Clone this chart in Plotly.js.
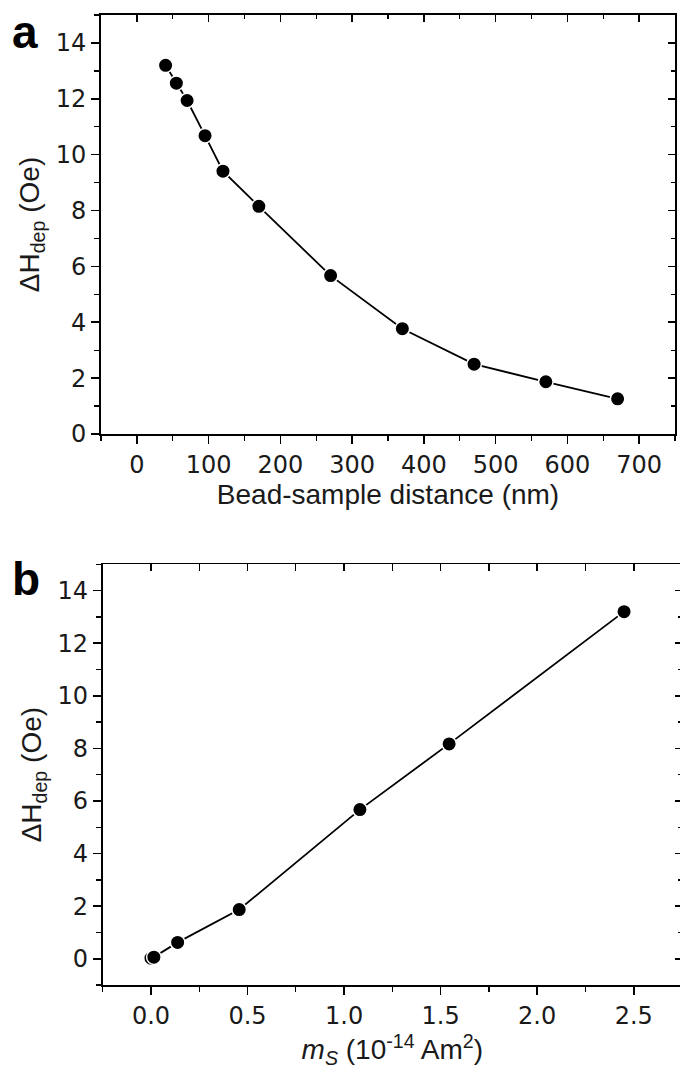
<!DOCTYPE html>
<html>
<head>
<meta charset="utf-8">
<script src="https://cdn.plot.ly/plotly-3.0.1.min.js"></script>
<style>
html,body{margin:0;padding:0;overflow:hidden;background:#fff;}
#chart{width:684px;height:1071px;}
</style>
</head>
<body>
<div id="chart"></div>
<script>
// Panel a: bead-sample distance (nm) vs ΔH_dep (Oe)
var distanceNm = [40, 55, 70, 95, 120, 170, 270, 370, 470, 570, 670];
var dHdepA = [13.2, 12.56, 11.94, 10.68, 9.41, 8.15, 5.67, 3.77, 2.50, 1.87, 1.26];
// Panel b: m_S (1e-14 Am^2) vs ΔH_dep (Oe)
var mS = [0.0, 0.015, 0.138, 0.457, 1.082, 1.544, 2.45];
var dHdepB = [0.02, 0.06, 0.62, 1.87, 5.67, 8.17, 13.2];

var xTicksA = [0, 100, 200, 300, 400, 500, 600, 700];
var yTicks = [0, 2, 4, 6, 8, 10, 12, 14];
var xTicksB = [0.0, 0.5, 1.0, 1.5, 2.0, 2.5];
var xTickTextB = ['0.0', '0.5', '1.0', '1.5', '2.0', '2.5'];

var W = 684, H = 1071;
var FONT = 'Liberation Sans, Arial, sans-serif';
var TF = {family: 'DejaVu Sans, Liberation Sans, sans-serif', size: 24, color: '#1a1a1a'};
var TTF = {family: FONT, size: 28, color: '#1a1a1a'};

function px2fx(p){ return p / W; }
function py2fy(p){ return (H - p) / H; }

var domXA = [px2fx(101), px2fx(675)];
var domYA = [py2fy(434), py2fy(15)];
var domXB = [px2fx(102.7), px2fx(682)];
var domYB = [py2fy(985), py2fy(564.3)];

var markerStyle = {size: 14.5, color: '#000', line: {color: '#fff', width: 1.5}};
var lineStyle = {color: '#000', width: 1.8};

var traces = [
  {x: distanceNm, y: dHdepA, xaxis: 'x', yaxis: 'y', mode: 'lines+markers',
   marker: markerStyle, line: lineStyle, hoverinfo: 'x+y'},
  {x: mS, y: dHdepB, xaxis: 'x2', yaxis: 'y2', mode: 'lines+markers',
   marker: markerStyle, line: lineStyle, hoverinfo: 'x+y'},
  {x: [], y: [], xaxis: 'x3', yaxis: 'y3', mode: 'markers', hoverinfo: 'skip'},
  {x: [], y: [], xaxis: 'x4', yaxis: 'y4', mode: 'markers', hoverinfo: 'skip'}
];

var baseAxis = {
  showgrid: false, zeroline: false, showline: true, linecolor: '#000', linewidth: 1.8,
  ticks: 'outside', ticklen: 8, tickwidth: 1.6, tickcolor: '#000',
  tickfont: TF, fixedrange: true
};
function ax(extra){ return Object.assign({}, baseAxis, extra); }

var layout = {
  width: W, height: H,
  margin: {l: 0, r: 0, t: 0, b: 0},
  paper_bgcolor: '#fff', plot_bgcolor: '#fff',
  showlegend: false,
  font: {family: FONT, color: '#1a1a1a'},
  xaxis: ax({domain: domXA, anchor: 'y', range: [-50, 750], tickmode: 'array', tickvals: xTicksA,
    minor: {dtick: 50, ticklen: 5, ticks: 'outside', tickwidth: 1.4, tickcolor: '#000'},
    title: {text: 'Bead-sample distance (nm)', font: TTF, standoff: 6}}),
  yaxis: ax({domain: domYA, anchor: 'x', range: [0, 15], tickmode: 'array', tickvals: yTicks,
    minor: {dtick: 1, ticklen: 5, ticks: 'outside', tickwidth: 1.4, tickcolor: '#000'},
    title: {text: 'ΔH<sub>dep</sub> (Oe)', font: TTF, standoff: 8}}),
  xaxis3: ax({overlaying: 'x', anchor: 'y', side: 'top', range: [-50, 750], tickmode: 'array', tickvals: xTicksA,
    ticks: 'inside', ticklen: 7, showticklabels: false,
    minor: {dtick: 50, ticklen: 4, ticks: 'inside', tickwidth: 1.4, tickcolor: '#000'}}),
  yaxis3: ax({overlaying: 'y', anchor: 'x', side: 'right', range: [0, 15], tickmode: 'array', tickvals: yTicks,
    ticks: 'inside', ticklen: 7, showticklabels: false,
    minor: {dtick: 1, ticklen: 4, ticks: 'inside', tickwidth: 1.4, tickcolor: '#000'}}),

  xaxis2: ax({domain: domXB, anchor: 'y2', range: [-0.25, 2.75], tickmode: 'array', tickvals: xTicksB, ticktext: xTickTextB,
    minor: {dtick: 0.25, ticklen: 5, ticks: 'outside', tickwidth: 1.4, tickcolor: '#000'},
    title: {text: '<i>m</i><sub><i>S</i></sub> (10<sup>-14</sup> Am<sup>2</sup>)', font: TTF, standoff: 6}}),
  yaxis2: ax({domain: domYB, anchor: 'x2', range: [-1, 15], tickmode: 'array', tickvals: yTicks,
    minor: {dtick: 1, ticklen: 5, ticks: 'outside', tickwidth: 1.4, tickcolor: '#000'},
    title: {text: 'ΔH<sub>dep</sub> (Oe)', font: TTF, standoff: 8}}),
  xaxis4: ax({overlaying: 'x2', anchor: 'y2', side: 'top', range: [-0.25, 2.75], tickmode: 'array', tickvals: xTicksB,
    ticks: 'inside', ticklen: 7, showticklabels: false,
    minor: {dtick: 0.25, ticklen: 7, ticks: 'inside', tickwidth: 1.4, tickcolor: '#000'}}),
  yaxis4: ax({overlaying: 'y2', anchor: 'x2', side: 'right', range: [-1, 15], tickmode: 'array', tickvals: yTicks,
    ticks: 'inside', ticklen: 7, showticklabels: false,
    minor: {dtick: 1, ticklen: 4, ticks: 'inside', tickwidth: 1.4, tickcolor: '#000'}}),

  annotations: [
    {text: '<b>a</b>', xref: 'paper', yref: 'paper', x: px2fx(10), y: py2fy(4), xanchor: 'left', yanchor: 'top',
     showarrow: false, font: {family: FONT, size: 46, color: '#000'}},
    {text: '<b>b</b>', xref: 'paper', yref: 'paper', x: px2fx(10), y: py2fy(551), xanchor: 'left', yanchor: 'top',
     showarrow: false, font: {family: FONT, size: 46, color: '#000'}}
  ]
};

Plotly.newPlot('chart', traces, layout, {displayModeBar: false, staticPlot: true});
</script>
</body>
</html>
